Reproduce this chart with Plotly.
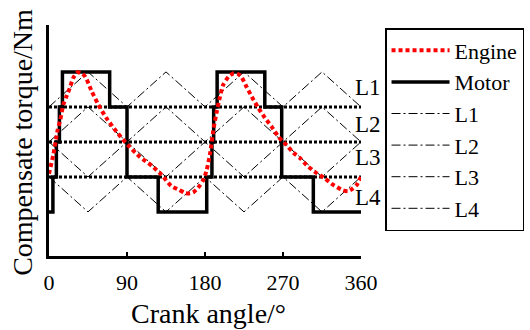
import plotly.graph_objects as go

# Crank angle samples (deg) and engine torque, in torque-level units
engine_angle = [0, 1, 5, 10, 13, 16.5, 20, 24, 28, 33, 38, 42, 49, 57, 66, 78, 91, 105, 119,
                130, 141, 150, 157, 163, 167, 172, 178, 182, 186, 190, 193.5, 197, 201, 207,
                213, 218, 222, 228, 234, 241.5, 249, 257, 265, 274, 282, 290, 297, 307,
                318, 328, 338, 345, 350, 355, 360]
engine_torque = [-0.91, -0.8, -0.37, 0.34, 0.63, 1.06, 1.29, 1.54, 1.83, 1.99, 1.96, 1.86,
                 1.46, 1.06, 0.69, 0.29, -0.09, -0.43, -0.69, -0.94, -1.26, -1.37, -1.46,
                 -1.47, -1.43, -1.31, -1.09, -0.8, -0.31, 0.4, 0.86, 1.26, 1.63, 1.86, 1.96,
                 1.94, 1.86, 1.57, 1.29, 0.97, 0.69, 0.43, 0.14, -0.09, -0.31, -0.47, -0.66,
                 -0.86, -1.04, -1.23, -1.37, -1.41, -1.34, -1.23, -1.0]

# Motor compensating torque steps: level held from each angle to the next
motor_angle = [0, 4.5, 8.5, 12, 15.5, 70, 90, 126, 182, 188, 190, 194, 249, 268.5, 305, 360]
motor_level = [-2, -1, 0, 1, 2, 1, -1, -2, -1, 0, 1, 2, 1, -1, -2, -2]

# Switching thresholds (dotted reference lines)
thresholds = [1, 0, -1]

# Triangular carriers, one per band, with vertices every 45 deg
carrier_angle = [0, 45, 90, 135, 180, 225, 270, 315, 360]
L1 = [1, 2, 1, 2, 1, 2, 1, 2, 1]
L2 = [0, 1, 0, 1, 0, 1, 0, 1, 0]
L3 = [0, -1, 0, -1, 0, -1, 0, -1, 0]
L4 = [-1, -2, -1, -2, -1, -2, -1, -2, -1]
carrier_names = ["L1", "L2", "L3", "L4"]
carrier_label_y = [1.55, 0.5, -0.45, -1.6]

x_ticks = [0, 90, 180, 270, 360]

FONT = "Liberation Serif"
DASHDOT = "9px,3px,2px,3px"

fig = go.Figure()

for name, vals, rank in zip(carrier_names, [L1, L2, L3, L4], [3, 4, 5, 6]):
    fig.add_trace(go.Scatter(
        x=carrier_angle, y=vals, mode="lines", name=name, legendrank=rank,
        line=dict(color="black", width=1, dash=DASHDOT),
    ))

for t in thresholds:
    fig.add_trace(go.Scatter(
        x=[0, 360], y=[t, t], mode="lines", showlegend=False, hoverinfo="skip",
        line=dict(color="black", width=3, dash="3px,2px"),
    ))

fig.add_trace(go.Scatter(
    x=motor_angle, y=motor_level, mode="lines", name="Motor", legendrank=2,
    line=dict(color="black", width=3.5, shape="hv"),
))

fig.add_trace(go.Scatter(
    x=engine_angle, y=engine_torque, mode="lines", name="Engine", legendrank=1,
    line=dict(color="#ff0000", width=4, dash="4px,3px", shape="spline", smoothing=0.6),
))

annotations = [
    dict(text="Crank angle/°", xref="paper", yref="paper", x=0.51, y=-0.251,
         xanchor="center", yanchor="middle", showarrow=False,
         font=dict(family=FONT, size=28, color="black")),
    dict(text="Compensate torque/Nm", xref="paper", yref="paper", x=-0.087, y=0.4935,
         xanchor="center", yanchor="middle", textangle=-90, showarrow=False,
         font=dict(family=FONT, size=28, color="black")),
]
for name, yy in zip(carrier_names, carrier_label_y):
    annotations.append(dict(
        text=name, xref="x", yref="y", x=351, y=yy, xanchor="left", yanchor="middle",
        showarrow=False, font=dict(family=FONT, size=23, color="black"),
    ))

fig.update_layout(
    width=530, height=330,
    margin=dict(l=49, r=169, t=25, b=74, autoexpand=False),
    paper_bgcolor="white", plot_bgcolor="white",
    font=dict(family=FONT, color="black"),
    showlegend=True,
    legend=dict(
        x=1.077, y=0.987, xanchor="left", yanchor="top",
        bgcolor="white", bordercolor="black", borderwidth=1.5,
        font=dict(family=FONT, size=22, color="black"),
        itemwidth=58, tracegroupgap=0,
    ),
    annotations=annotations,
)

fig.update_xaxes(
    range=[0, 360], tickvals=x_ticks, ticktext=[str(v) for v in x_ticks],
    showline=True, linecolor="black", linewidth=2.5,
    ticks="inside", ticklen=4, tickwidth=2, tickcolor="black",
    ticklabelstandoff=5,
    tickfont=dict(family=FONT, size=22, color="black"),
    showgrid=False, zeroline=False,
)
fig.update_yaxes(
    range=[-3.26, 3.34], showline=True, linecolor="black", linewidth=2.5,
    showticklabels=False, ticks="", showgrid=False, zeroline=False,
)

fig.write_html("out.html")
